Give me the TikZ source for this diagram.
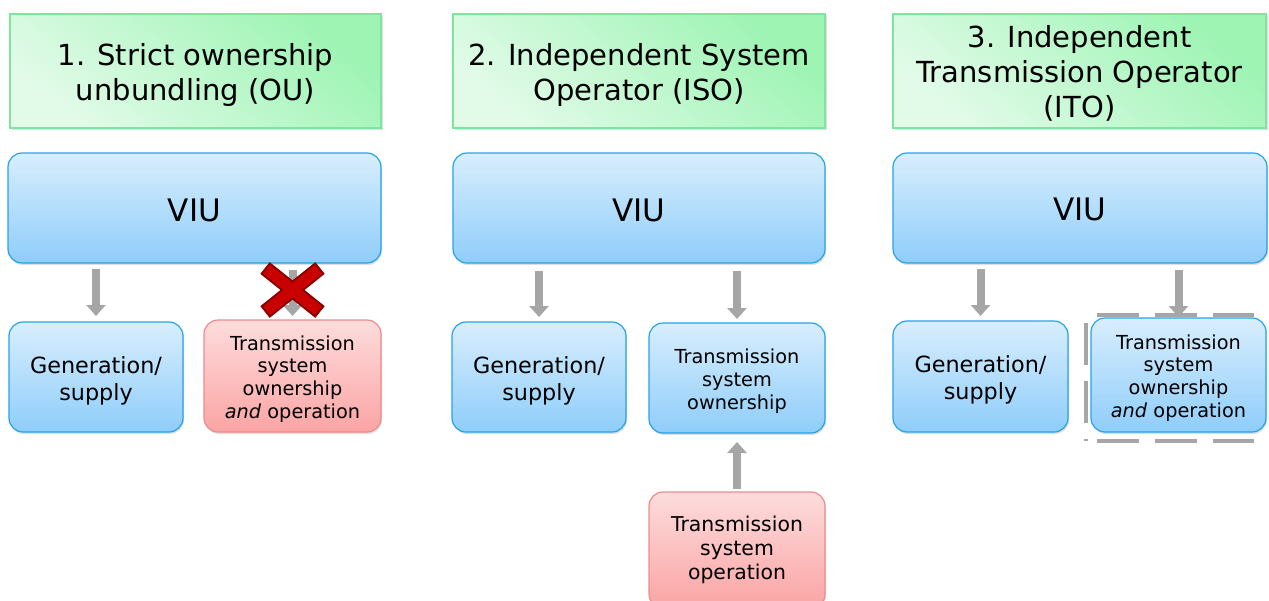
\documentclass[tikz,border=0pt]{standalone}
\usepackage{fontspec}
\setmainfont{DejaVu Sans}
\usetikzlibrary{arrows.meta,shadows}
\definecolor{gtop}{HTML}{9DF4B3}
\definecolor{gbot}{HTML}{E2FBE9}
\definecolor{gline}{HTML}{7FE59C}
\definecolor{btop}{HTML}{D8EEFD}
\definecolor{bbot}{HTML}{8FCDFA}
\definecolor{bline}{HTML}{25A3EA}
\definecolor{rtop}{HTML}{FDDCDC}
\definecolor{rbot}{HTML}{FBA4A4}
\definecolor{rline}{HTML}{F08A8A}
\definecolor{arr}{HTML}{A6A6A6}
\definecolor{xred}{HTML}{C80000}
\definecolor{xdark}{HTML}{8A0000}
\tikzset{
  titlebox/.style={draw=gline, line width=1.5pt, top color=gtop, bottom color=gbot, shading angle=-40,
    drop shadow={shadow xshift=1.5pt, shadow yshift=-2pt, opacity=0.25}, inner sep=0pt},
  viubox/.style={draw=bline, line width=1.2pt, rounded corners=14pt, top color=btop, bottom color=bbot,
    drop shadow={shadow xshift=1pt, shadow yshift=-2pt, opacity=0.25}, inner sep=0pt},
  bluebox/.style={viubox},
  redbox/.style={draw=rline, line width=1.2pt, rounded corners=14pt, top color=rtop, bottom color=rbot,
    drop shadow={shadow xshift=1pt, shadow yshift=-2pt, opacity=0.25}, inner sep=0pt},
  titletxt/.style={align=center, inner sep=0pt, font=\fontsize{29}{35}\selectfont},
  viutxt/.style={align=center, inner sep=0pt, font=\fontsize{31}{34}\selectfont},
  bigtxt/.style={align=center, inner sep=0pt, font=\fontsize{22.3}{27}\selectfont},
  optxt/.style={align=center, inner sep=0pt, font=\fontsize{20.4}{24}\selectfont},
  smtxt/.style={align=center, inner sep=0pt, font=\fontsize{19.3}{22.7}\selectfont},
  garrow/.style={draw=arr, line width=8pt, -{Triangle[width=19pt,length=11pt]}},
  dashln/.style={draw=arr, line width=4.5pt, dash pattern=on 42pt off 16pt},
}
\begin{document}
\begin{tikzpicture}[x=1pt,y=-1pt]
\useasboundingbox (0,0) rectangle (1269,600);
\begin{scope}
\clip (0,0) rectangle (1269,600);
% titles
\node[titlebox, minimum width=371pt, minimum height=114pt] (t1) at (195.5,71) {};
\node[titlebox, minimum width=372pt, minimum height=114pt] (t2) at (639,71) {};
\node[titlebox, minimum width=373pt, minimum height=114pt] (t3) at (1079.5,71) {};
\node[titletxt] (t1t) at ([yshift=-4pt]t1.center) {1. Strict ownership\\unbundling (OU)};
\node[titletxt] (t2t) at ([yshift=-4pt]t2.center) {2. Independent System\\Operator (ISO)};
\node[titletxt] (t3t) at ([yshift=-2.5pt]t3.center) {3. Independent\\Transmission Operator\\(ITO)};
% VIU
\node[viubox, minimum width=373pt, minimum height=110pt] (v1) at (194.5,208) {};
\node[viubox, minimum width=372pt, minimum height=110pt] (v2) at (639,208) {};
\node[viubox, minimum width=374pt, minimum height=110pt] (v3) at (1080,208) {};
\node[viutxt] (v1t) at ([yshift=-2pt]v1.center) {VIU};
\node[viutxt] (v2t) at ([yshift=-2pt]v2.center) {VIU};
\node[viutxt] (v3t) at ([yshift=-1pt]v3.center) {VIU};
% column 1
\node[bluebox, minimum width=174pt, minimum height=110pt] (g1) at (96,377) {};
\node[bigtxt] (g1t) at ([yshift=-3.5pt]g1.center) {Generation/\\supply};
\node[redbox, minimum width=177pt, minimum height=112pt] (r1) at (292.5,376) {};
\node[smtxt] (r1t) at ([yshift=-3pt]r1.center) {Transmission\\system\\ownership\\\textit{and} operation};
% column 2
\node[bluebox, minimum width=174pt, minimum height=110pt] (g2) at (539,377) {};
\node[bigtxt] (g2t) at ([yshift=-3.5pt]g2.center) {Generation/\\supply};
\node[bluebox, minimum width=176pt, minimum height=110pt] (o2) at (737,378) {};
\node[smtxt] (o2t) at ([yshift=-3pt]o2.center) {Transmission\\system\\ownership};
\node[redbox, minimum width=176pt, minimum height=116pt] (p2) at (737,550) {};
\node[optxt] (p2t) at ([yshift=0pt]p2.center) {Transmission\\system\\operation};
% column 3
\node[bluebox, minimum width=175pt, minimum height=111pt] (g3) at (980.5,376.5) {};
\node[bigtxt] (g3t) at ([yshift=-3.5pt]g3.center) {Generation/\\supply};
\node[bluebox, minimum width=175pt, minimum height=114pt] (o3) at (1178.5,375) {};
\node[smtxt] (o3t) at ([yshift=-3pt]o3.center) {Transmission\\system\\ownership\\\textit{and} operation};
\draw[dashln] (1097,315) -- (1254,315);
\draw[dashln] (1097,441) -- (1254,441);
\draw[dashln] (1086,323) -- (1086,441);
\end{scope}
% arrows
\draw[garrow] (g1.north |- 0,269) -- (g1.north |- 0,316);
\draw[garrow] (r1.north |- 0,270) -- (r1.north |- 0,316);
\draw[garrow] (g2.north |- 0,271) -- (g2.north |- 0,317);
\draw[garrow] (o2.north |- 0,271) -- (o2.north |- 0,319);
\draw[garrow] (p2.north |- 0,489) -- (o2.south |- 0,442);
\draw[garrow] (g3.north |- 0,269) -- (g3.north |- 0,316);
\draw[garrow] (o3.north |- 0,270) -- (o3.north |- 0,317);
% red X
\begin{scope}[line cap=butt]
\draw[xdark, line width=15pt] (265,268) -- (320,312);
\draw[xdark, line width=15pt] (320,268) -- (265,312);
\draw[xred, line width=11pt] (266.5,269.2) -- (318.5,310.8);
\draw[xred, line width=11pt] (318.5,269.2) -- (266.5,310.8);
\end{scope}
\end{tikzpicture}
\end{document}
